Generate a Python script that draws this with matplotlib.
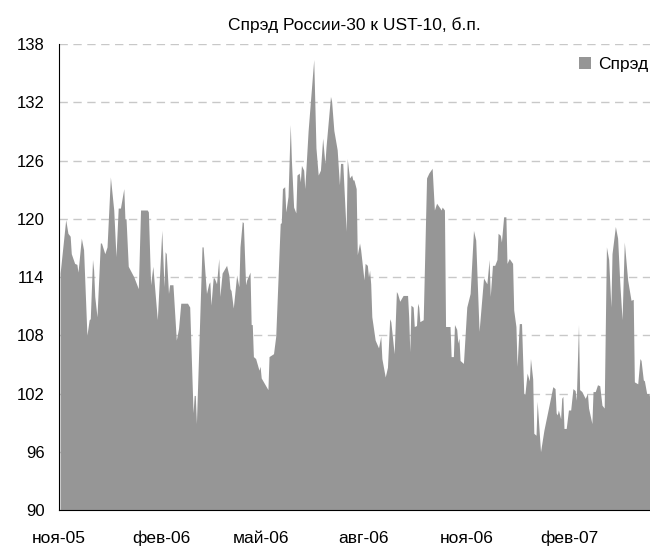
import datetime as dt
import matplotlib
matplotlib.use("Agg")
import matplotlib.pyplot as plt
import matplotlib.dates as mdates

# данные: дни от 01.11.2005 и спред, б.п.
start = dt.date(2005, 11, 1)
days = [
    1, 6, 8, 10, 11, 14, 16, 17, 20, 22, 25, 27, 28, 30, 31, 32, 34, 37, 38, 41,
    43, 46, 49, 51, 53, 55, 58, 59, 60, 62, 67, 71, 73, 79, 80, 82, 84, 88, 92, 94,
    95, 96, 98, 99, 102, 105, 107, 109, 115, 117, 120, 121, 122, 123, 128, 129, 132, 134, 135, 136,
    138, 139, 141, 143, 144, 146, 150, 152, 153, 154, 156, 159, 161, 162, 164, 165, 167, 168, 171, 172,
    173, 174, 176, 179, 180, 181, 187, 188, 192, 194, 198, 199, 200, 202, 203, 205, 207, 208, 210, 212,
    213, 215, 216, 217, 219, 220, 223, 228, 230, 232, 234, 236, 238, 239, 243, 244, 246, 249, 251, 252,
    254, 257, 258, 260, 262, 263, 264, 266, 267, 269, 270, 273, 274, 276, 277, 278, 279, 280, 283, 286,
    288, 289, 292, 294, 296, 297, 300, 302, 303, 305, 308, 312, 313, 314, 315, 317, 318, 320, 321, 322,
    323, 326, 329, 331, 334, 336, 338, 341, 342, 343, 345, 346, 348, 350, 351, 353, 354, 356, 357, 358,
    359, 362, 365, 368, 371, 373, 376, 380, 383, 385, 386, 388, 390, 392, 393, 395, 396, 398, 400, 401,
    403, 406, 407, 409, 410, 412, 414, 416, 417, 419, 421, 422, 424, 425, 427, 428, 431, 434, 439, 442,
    444, 445, 446, 447, 449, 450, 451, 452, 454, 456, 458, 460, 462, 463, 465, 466, 468, 471, 473, 474,
    477, 478, 480, 482, 484, 486, 488, 490, 492, 494, 495, 498, 500, 502, 504, 506, 509, 512, 514, 515,
    518, 520, 521, 523, 524, 526, 528, 529,
]
spread = [
    114.4, 119.9, 118.5, 118.2, 116.4, 115.4, 115.3, 114.5, 118.0, 116.8, 108.0, 109.6, 109.7, 115.8, 114.7, 112.0, 109.9, 117.5, 117.5, 116.4,
    117.1, 124.3, 120.9, 116.1, 121.1, 121.1, 123.1, 120.0, 120.0, 115.1, 114.0, 112.8, 120.9, 120.9, 120.7, 113.2, 115.1, 109.6, 118.8, 113.0,
    116.6, 116.4, 112.3, 113.2, 113.2, 107.5, 108.7, 111.3, 111.3, 110.9, 100.0, 101.8, 101.8, 98.9, 117.1, 117.1, 112.3, 113.3, 113.5, 111.1,
    113.9, 113.9, 113.3, 115.9, 112.0, 114.4, 115.2, 114.2, 112.8, 112.6, 110.8, 114.2, 113.0, 117.1, 119.7, 119.6, 113.2, 113.7, 114.5, 109.1,
    109.1, 105.8, 105.6, 104.4, 104.8, 103.6, 102.4, 105.8, 106.1, 107.9, 119.5, 119.6, 123.1, 123.3, 120.7, 122.3, 129.7, 126.1, 121.2, 120.6,
    124.5, 124.7, 123.8, 125.5, 125.0, 123.1, 129.1, 136.4, 127.3, 124.5, 125.0, 128.3, 125.7, 127.4, 132.6, 132.1, 129.1, 127.1, 123.5, 125.7,
    125.7, 118.7, 126.2, 124.2, 124.5, 124.0, 124.0, 123.1, 116.3, 117.5, 116.8, 113.7, 115.4, 115.2, 114.0, 114.7, 113.3, 109.9, 107.5, 106.7,
    107.9, 105.6, 103.7, 104.7, 109.7, 109.4, 106.1, 112.5, 112.3, 111.5, 112.1, 112.1, 109.9, 106.3, 111.1, 110.9, 108.9, 109.0, 111.3, 110.9,
    109.4, 109.6, 124.2, 124.7, 125.2, 120.9, 121.6, 121.1, 120.9, 121.2, 120.9, 108.9, 108.9, 108.9, 105.8, 105.8, 109.1, 108.6, 107.2, 107.7,
    105.4, 105.1, 110.9, 112.3, 118.8, 117.8, 108.4, 113.9, 113.3, 115.8, 112.0, 115.2, 115.2, 115.8, 118.5, 118.3, 117.6, 120.2, 120.2, 115.4,
    115.9, 115.4, 110.6, 108.9, 104.8, 109.2, 109.2, 102.0, 101.9, 104.1, 103.3, 105.6, 103.5, 97.9, 97.7, 101.2, 96.0, 98.2, 101.0, 102.7,
    102.5, 100.0, 99.8, 100.3, 99.4, 101.5, 101.7, 98.4, 98.4, 100.3, 100.3, 102.5, 102.3, 101.3, 109.1, 102.4, 102.2, 101.5, 102.0, 100.5,
    98.9, 102.2, 102.2, 102.9, 102.8, 100.8, 100.5, 117.1, 115.8, 110.9, 116.4, 119.2, 118.0, 113.3, 109.6, 117.6, 113.7, 111.6, 111.7, 103.2,
    103.0, 105.6, 105.4, 103.4, 103.3, 102.0, 102.0, 101.5,
]
yticks = [90, 96, 102, 108, 114, 120, 126, 132, 138]
month_ticks = ["2005-11-01", "2006-02-01", "2006-05-01", "2006-08-01", "2006-11-01", "2007-02-01"]
month_labels = ["ноя-05", "фев-06", "май-06", "авг-06", "ноя-06", "фев-07"]

plt.rcParams['font.family'] = ['Liberation Sans', 'DejaVu Sans']

dates = [start + dt.timedelta(days=d) for d in days]
x = mdates.date2num(dates)

fig = plt.figure(figsize=(6.5, 5.51), dpi=100)
ax = fig.add_axes([59 / 650, 1 - 510 / 551, 591 / 650, 466 / 551])

ax.fill_between(x, spread, 90, color='#969696', linewidth=0, label='Спрэд')

ax.set_ylim(90, 138)
ax.set_yticks(yticks)
ax.set_xlim(mdates.date2num(start), mdates.date2num(start + dt.timedelta(days=529.6)))
ax.set_xticks(mdates.date2num([dt.date.fromisoformat(s) for s in month_ticks]))
ax.set_xticklabels(month_labels)

ax.yaxis.grid(True, color='#c8c8c8', linestyle=(0, (6, 4)), linewidth=1)
ax.set_axisbelow(True)
for s in ['top', 'right']:
    ax.spines[s].set_visible(False)
ax.spines['left'].set_color('#000000')
ax.spines['bottom'].set_color('#000000')
ax.spines['left'].set_linewidth(0.8)
ax.spines['bottom'].set_linewidth(0.8)
ax.tick_params(axis='both', length=0)
ax.tick_params(axis='y', pad=10.5, labelsize=12)
ax.tick_params(axis='x', pad=15, labelsize=12.5)

ax.set_title('Спрэд России-30 к UST-10, б.п.', fontsize=12.5, pad=10)

# легенда справа сверху, без рамки
leg = ax.legend(loc='upper right', frameon=False, fontsize=12.5, handlelength=0.7,
                handleheight=0.7, handletextpad=0.4, borderaxespad=0.1,
                bbox_to_anchor=(1.012, 0.99))

fig.savefig('out.png', dpi=100)
